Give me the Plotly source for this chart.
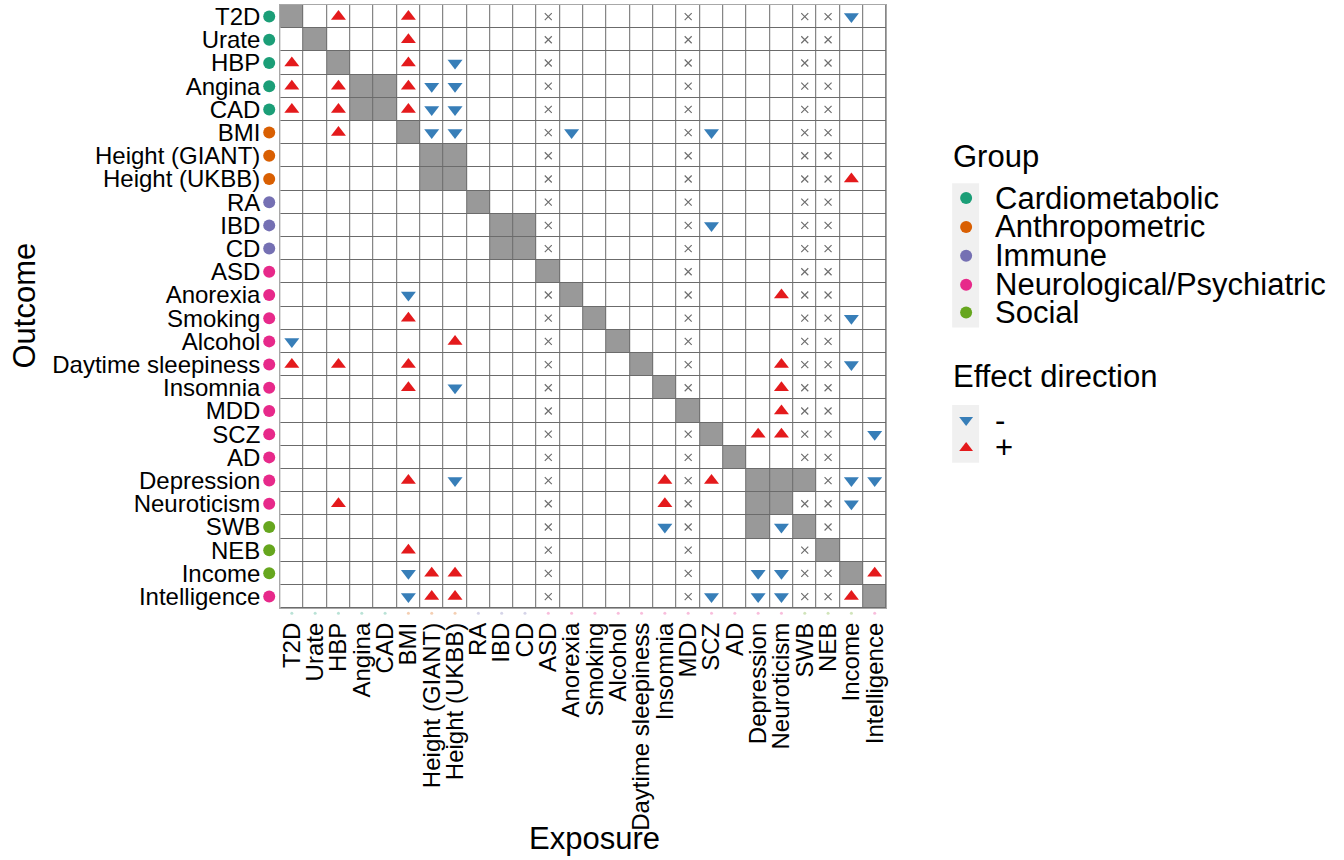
import plotly.graph_objects as go

# ---------------- data ----------------
traits = ["T2D", "Urate", "HBP", "Angina", "CAD", "BMI", "Height (GIANT)", "Height (UKBB)",
          "RA", "IBD", "CD", "ASD", "Anorexia", "Smoking", "Alcohol", "Daytime sleepiness",
          "Insomnia", "MDD", "SCZ", "AD", "Depression", "Neuroticism", "SWB", "NEB",
          "Income", "Intelligence"]

trait_group = ["Cardiometabolic", "Cardiometabolic", "Cardiometabolic", "Cardiometabolic",
               "Cardiometabolic", "Anthropometric", "Anthropometric", "Anthropometric",
               "Immune", "Immune", "Immune", "Neurological/Psychiatric",
               "Neurological/Psychiatric", "Neurological/Psychiatric", "Neurological/Psychiatric",
               "Neurological/Psychiatric", "Neurological/Psychiatric", "Neurological/Psychiatric",
               "Neurological/Psychiatric", "Neurological/Psychiatric", "Neurological/Psychiatric",
               "Neurological/Psychiatric", "Social", "Social", "Social",
               "Neurological/Psychiatric"]

group_names = ["Cardiometabolic", "Anthropometric", "Immune", "Neurological/Psychiatric", "Social"]
group_colors = ["#1B9E77", "#D95F02", "#7570B3", "#E7298A", "#66A61E"]

effect_labels = ["-", "+"]
effect_symbols = ["triangle-down", "triangle-up"]
effect_colors = ["#377EB8", "#E41A1C"]

# (outcome, exposure) pairs of closely related traits (shaded like the diagonal)
related_pairs = [("Angina", "CAD"), ("CAD", "Angina"),
                 ("Height (GIANT)", "Height (UKBB)"), ("Height (UKBB)", "Height (GIANT)"),
                 ("IBD", "CD"), ("CD", "IBD"),
                 ("Depression", "Neuroticism"), ("Depression", "SWB"),
                 ("Neuroticism", "Depression"), ("SWB", "Depression")]

# (outcome, exposure) pairs with a positive effect
positive = [("T2D", "HBP"), ("T2D", "BMI"),
            ("Urate", "BMI"),
            ("HBP", "T2D"), ("HBP", "BMI"),
            ("Angina", "T2D"), ("Angina", "HBP"), ("Angina", "BMI"),
            ("CAD", "T2D"), ("CAD", "HBP"), ("CAD", "BMI"),
            ("BMI", "HBP"),
            ("Height (UKBB)", "Income"),
            ("Anorexia", "Neuroticism"),
            ("Smoking", "BMI"),
            ("Alcohol", "Height (UKBB)"),
            ("Daytime sleepiness", "T2D"), ("Daytime sleepiness", "HBP"),
            ("Daytime sleepiness", "BMI"), ("Daytime sleepiness", "Neuroticism"),
            ("Insomnia", "BMI"), ("Insomnia", "Neuroticism"),
            ("MDD", "Neuroticism"),
            ("SCZ", "Depression"), ("SCZ", "Neuroticism"),
            ("Depression", "BMI"), ("Depression", "Insomnia"), ("Depression", "SCZ"),
            ("Neuroticism", "HBP"), ("Neuroticism", "Insomnia"),
            ("NEB", "BMI"),
            ("Income", "Height (GIANT)"), ("Income", "Height (UKBB)"), ("Income", "Intelligence"),
            ("Intelligence", "Height (GIANT)"), ("Intelligence", "Height (UKBB)"),
            ("Intelligence", "Income")]

# (outcome, exposure) pairs with a negative effect
negative = [("T2D", "Income"),
            ("HBP", "Height (UKBB)"),
            ("Angina", "Height (GIANT)"), ("Angina", "Height (UKBB)"),
            ("CAD", "Height (GIANT)"), ("CAD", "Height (UKBB)"),
            ("BMI", "Height (GIANT)"), ("BMI", "Height (UKBB)"), ("BMI", "Anorexia"), ("BMI", "SCZ"),
            ("IBD", "SCZ"),
            ("Anorexia", "BMI"),
            ("Smoking", "Income"),
            ("Alcohol", "T2D"),
            ("Daytime sleepiness", "Income"),
            ("Insomnia", "Height (UKBB)"),
            ("SCZ", "Intelligence"),
            ("Depression", "Height (UKBB)"), ("Depression", "Income"), ("Depression", "Intelligence"),
            ("Neuroticism", "Income"),
            ("SWB", "Insomnia"), ("SWB", "Neuroticism"),
            ("Income", "BMI"), ("Income", "Depression"), ("Income", "Neuroticism"),
            ("Intelligence", "BMI"), ("Intelligence", "SCZ"), ("Intelligence", "Depression"),
            ("Intelligence", "Neuroticism")]

# exposures that could not be tested (shown with a cross)
untested_exposures = ["ASD", "MDD", "SWB", "NEB"]

# ---------------- layout constants (pixels) ----------------
W, H = 1344, 860
GX0, GX1, GY0, GY1 = 278, 886, 3, 609   # grid box
FONT = "Liberation Sans, Arial, Helvetica, sans-serif"
TXT = 31
TICK = 24

n = len(traits)
idx = {t: i for i, t in enumerate(traits)}
color_of = dict(zip(group_names, group_colors))


def xp(px):
    return px / W


def yp(py):
    return 1 - py / H


shaded = set((t, t) for t in traits) | set(related_pairs)
z = [[1 if (o, e) in shaded else 0 for e in traits] for o in traits]

fig = go.Figure()

# dark base layer: shows through the cell gaps as grid lines
fig.add_trace(go.Heatmap(
    z=[[0] * n for _ in range(n)], x=list(range(n)), y=list(range(n)),
    colorscale=[[0, "#6B6B6B"], [1, "#6B6B6B"]], showscale=False, hoverinfo="skip"))

fig.add_trace(go.Heatmap(
    z=z, x=list(range(n)), y=list(range(n)),
    colorscale=[[0, "#FFFFFF"], [1, "#999999"]], zmin=0, zmax=1,
    showscale=False, xgap=1, ygap=1, hoverinfo="skip"))

marked = set(positive) | set(negative) | shaded
na_cells = [(o, e) for e in untested_exposures for o in traits if (o, e) not in marked]

fig.add_trace(go.Scatter(
    x=[idx[e] for o, e in na_cells], y=[idx[o] for o, e in na_cells], mode="markers",
    marker=dict(symbol="x-thin-open", size=7, color="#6E6E6E", line=dict(width=1.2, color="#6E6E6E")),
    showlegend=False, hoverinfo="skip"))

fig.add_trace(go.Scatter(
    x=[idx[e] for o, e in positive], y=[idx[o] for o, e in positive], mode="markers",
    marker=dict(symbol="triangle-up", size=13, color="#E41A1C", line=dict(width=0)),
    showlegend=False))

fig.add_trace(go.Scatter(
    x=[idx[e] for o, e in negative], y=[idx[o] for o, e in negative], mode="markers",
    marker=dict(symbol="triangle-down", size=13, color="#377EB8", line=dict(width=0)),
    showlegend=False))

# group dots beside the outcome labels (narrow strip sharing the outcome axis)
fig.add_trace(go.Scatter(
    x=[0.5] * n, y=list(range(n)), xaxis="x2", yaxis="y", mode="markers", cliponaxis=False,
    marker=dict(size=12, color=[color_of[g] for g in trait_group], line=dict(width=0)),
    showlegend=False, hoverinfo="skip"))

# faint group dots under the exposure labels (narrow strip sharing the exposure axis)
fig.add_trace(go.Scatter(
    x=list(range(n)), y=[0.5] * n, xaxis="x", yaxis="y2", mode="markers", cliponaxis=False,
    marker=dict(size=3, color=[color_of[g] for g in trait_group], opacity=0.3, line=dict(width=0)),
    showlegend=False, hoverinfo="skip"))

# ---------------- manual legend ----------------
KX0, KX1 = 952, 979
shapes = [
    dict(type="rect", xref="paper", yref="paper", x0=xp(KX0), x1=xp(KX1), y0=yp(182), y1=yp(327),
         fillcolor="#F0F0F0", line=dict(width=0), layer="below"),
    dict(type="rect", xref="paper", yref="paper", x0=xp(KX0), x1=xp(KX1), y0=yp(405), y1=yp(463),
         fillcolor="#F0F0F0", line=dict(width=0), layer="below"),
]

group_key_y = [197, 226, 255, 284, 312]
effect_key_y = [420, 448]
fig.add_trace(go.Scatter(
    x=[966] * len(group_names), y=group_key_y, xaxis="x3", yaxis="y3", mode="markers",
    cliponaxis=False, marker=dict(size=12, color=group_colors, line=dict(width=0)),
    showlegend=False, hoverinfo="skip"))
fig.add_trace(go.Scatter(
    x=[966] * len(effect_labels), y=effect_key_y, xaxis="x3", yaxis="y3", mode="markers",
    cliponaxis=False, marker=dict(symbol=effect_symbols, size=12, color=effect_colors, line=dict(width=0)),
    showlegend=False, hoverinfo="skip"))

annotations = []


def text(s, x, y, xanchor="left", angle=0, size=TXT):
    annotations.append(dict(text=s, x=xp(x), y=yp(y), xref="paper", yref="paper",
                            xanchor=xanchor, yanchor="middle", showarrow=False, textangle=angle,
                            font=dict(size=size, color="#000000", family=FONT)))


text("Group", 951, 155)
for g, yy in zip(group_names, group_key_y):
    text(g, 993, yy)
text("Effect direction", 951, 376)
for lab, yy in zip(effect_labels, effect_key_y):
    text(lab, 993, yy)

text("Outcome", 22, 305, xanchor="center", angle=-90)
text("Exposure", 593, 840, xanchor="center")

fig.update_layout(
    width=W, height=H,
    margin=dict(l=0, r=0, t=0, b=0, pad=0),
    paper_bgcolor="#FFFFFF", plot_bgcolor="rgba(0,0,0,0)",
    font=dict(family=FONT, color="#000000"),
    shapes=shapes, annotations=annotations,
    showlegend=False,
    xaxis=dict(domain=[xp(GX0), xp(GX1)], range=[-0.5, n - 0.5], tickmode="array",
               tickvals=list(range(n)), ticktext=traits, tickangle=-90, showgrid=False,
               zeroline=False, ticks="", ticklabelstandoff=4, anchor="y",
               tickfont=dict(size=TICK, color="#000000", family=FONT),
               showline=True, mirror=True, linecolor="#A8A8A8", linewidth=1),
    yaxis=dict(domain=[yp(GY1), yp(GY0)], range=[n - 0.5, -0.5], tickmode="array",
               tickvals=list(range(n)), ticktext=traits, showgrid=False, zeroline=False,
               ticks="", ticklabelstandoff=14, anchor="x",
               tickfont=dict(size=TICK, color="#000000", family=FONT),
               showline=True, mirror=True, linecolor="#A8A8A8", linewidth=1),
    xaxis2=dict(domain=[xp(261), xp(273)], range=[0, 1], anchor="y", visible=False),
    yaxis2=dict(domain=[yp(617), yp(611)], range=[0, 1], anchor="x", visible=False),
    xaxis3=dict(domain=[xp(KX0), xp(KX1)], range=[KX0, KX1], anchor="y3", visible=False),
    yaxis3=dict(domain=[yp(463), yp(182)], range=[463, 182], anchor="x3", visible=False),
)

fig.write_html("out.html")
